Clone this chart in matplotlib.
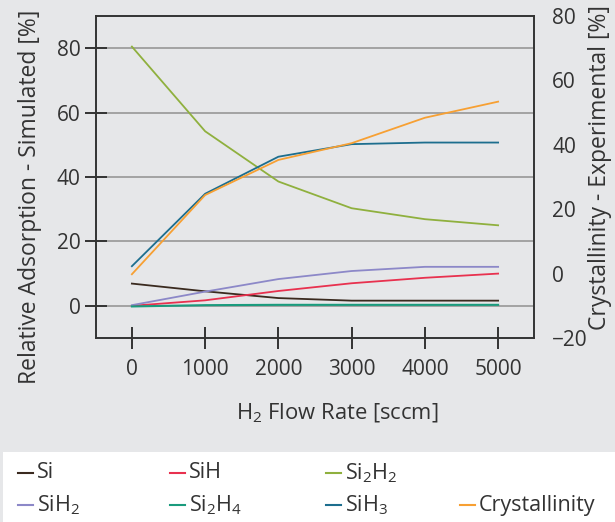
import matplotlib
matplotlib.use("Agg")
import matplotlib.pyplot as plt
from matplotlib.lines import Line2D

plt.rcParams['font.family'] = ['Open Sans', 'DejaVu Sans']
plt.rcParams['mathtext.default'] = 'regular'
plt.rcParams['mathtext.fontset'] = 'custom'
plt.rcParams['mathtext.rm'] = 'Open Sans'
plt.rcParams['mathtext.it'] = 'Open Sans'

flow = [0, 1000, 2000, 3000, 4000, 5000]
si = [6.9, 4.5, 2.4, 1.6, 1.6, 1.6]
sih = [0.0, 1.7, 4.6, 7.0, 8.7, 10.0]
si2h2 = [80.5, 54.2, 38.6, 30.3, 26.9, 25.0]
sih2 = [0.2, 4.4, 8.3, 10.8, 12.1, 12.1]
si2h4 = [-0.2, 0.2, 0.3, 0.3, 0.3, 0.3]
sih3 = [12.3, 34.8, 46.3, 50.2, 50.7, 50.7]
crystallinity = [-0.2, 24.4, 35.3, 40.5, 48.4, 53.4]

left_ticks = [0, 20, 40, 60, 80]
right_ticks = [-20, 0, 20, 40, 60, 80]

colors = {
    'Si': '#3a2a1f', 'SiH': '#e8314f', 'Si2H2': '#8fb03e', 'SiH2': '#8c88c8',
    'Si2H4': '#1a9b7d', 'SiH3': '#1d6e8e', 'Crystallinity': '#f7a033'
}
txt = '#333333'
bg = '#e6e7e9'

W, H = 615, 522
fig = plt.figure(figsize=(W / 100, H / 100), dpi=100, facecolor=bg)
ax = fig.add_axes([96 / W, 1 - 338 / H, (534 - 96) / W, (338 - 16) / H])
ax.set_facecolor(bg)

ax.plot(flow, si, color=colors['Si'], lw=1.3)
ax.plot(flow, sih, color=colors['SiH'], lw=1.3)
ax.plot(flow, si2h2, color=colors['Si2H2'], lw=1.3)
ax.plot(flow, sih2, color=colors['SiH2'], lw=1.3)
ax.plot(flow, si2h4, color=colors['Si2H4'], lw=1.5)
ax.plot(flow, sih3, color=colors['SiH3'], lw=1.3)

ax.set_xlim(-490, 5490)
ax.set_ylim(-10, 90)
ax.set_xticks(flow)
ax.set_yticks(left_ticks)
ax.yaxis.grid(True, color='#a3a3a3', lw=1.4)
ax.set_axisbelow(True)
ax.tick_params(axis='both', direction='inout', length=16, width=1.4, color=txt,
               labelsize=15, labelcolor=txt)
ax.tick_params(axis='y', pad=3)
ax.tick_params(axis='x', pad=7)
for s in ax.spines.values():
    s.set_color(txt)
    s.set_linewidth(1.2)

ax.set_xlabel('H$_2$ Flow Rate [sccm]', fontsize=15.8, color=txt, va='center')
ax.xaxis.set_label_coords(0.551, -0.233)
ax.set_ylabel('Relative Adsorption - Simulated [%]', fontsize=16.5, color=txt, va='center')
ax.yaxis.set_label_coords(-0.1507, 0.439)

ax2 = ax.twinx()
ax2.plot(flow, crystallinity, color=colors['Crystallinity'], lw=1.3)
ax2.set_ylim(-20, 80)
ax2.set_yticks(right_ticks)
ax2.tick_params(axis='y', length=0, pad=13, labelsize=15, labelcolor=txt)
for s in ax2.spines.values():
    s.set_color(txt)
    s.set_linewidth(1.2)
ax2.set_ylabel('Crystallinity - Experimental [%]', fontsize=16.5, color=txt, va='center')
ax2.yaxis.set_label_coords(1.1507, 0.5295)

# legend box
fig.patches.append(plt.Rectangle((3 / W, 0), (W - 3) / W, (522 - 452) / H,
                                 transform=fig.transFigure, facecolor='white',
                                 edgecolor='none', zorder=0))
entries = [
    ('Si', 'Si', 18, 473), ('SiH', 'SiH', 170, 473), ('Si$_2$H$_2$', 'Si2H2', 326, 473),
    ('SiH$_2$', 'SiH2', 18, 505), ('Si$_2$H$_4$', 'Si2H4', 170, 505),
    ('SiH$_3$', 'SiH3', 326, 505), ('Crystallinity', 'Crystallinity', 460, 505),
]
for label, key, x0, y0 in entries:
    yy = 1 - y0 / H
    fig.add_artist(Line2D([x0 / W, (x0 + 15) / W], [yy, yy], transform=fig.transFigure,
                          color=colors[key], lw=1.5))
    fig.text((x0 + 19) / W, yy, label, fontsize=15.5, color=txt, va='center', ha='left')

fig.savefig('out.png', dpi=100, facecolor=bg)
